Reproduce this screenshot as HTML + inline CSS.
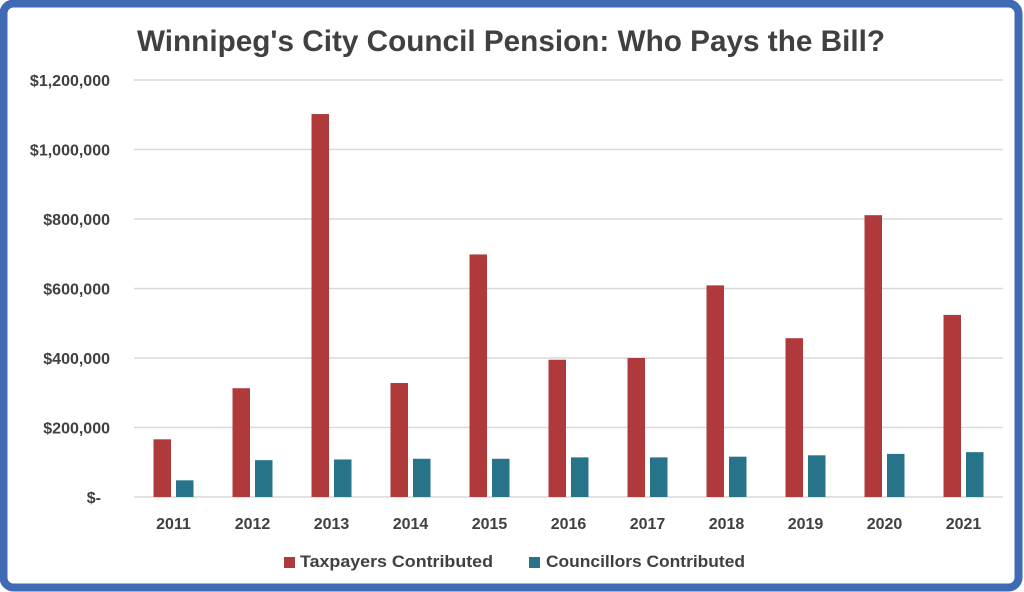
<!DOCTYPE html>
<html><head><meta charset="utf-8"><style>
html,body{margin:0;padding:0;background:#fff;}
svg{display:block;font-family:"Liberation Sans",sans-serif;}
</style></head><body>
<svg id="chart" width="1024" height="592" viewBox="0 0 1024 592" xmlns="http://www.w3.org/2000/svg">
<rect x="3.5" y="3.5" width="1015" height="584" rx="10" fill="#fff" stroke="#3e6bb3" stroke-width="8"/>
<text x="511" y="51" text-anchor="middle" font-size="30" font-weight="bold" fill="#404040" textLength="748" lengthAdjust="spacingAndGlyphs">Winnipeg's City Council Pension: Who Pays the Bill?</text>
<g id="grid"></g><g id="bars"></g><g id="labels"></g>
<g>
<rect x="284" y="557" width="11" height="11" fill="#b0393c"/>
<text x="300" y="567" font-size="17" font-weight="bold" fill="#404040" textLength="193" lengthAdjust="spacingAndGlyphs">Taxpayers Contributed</text>
<rect x="529" y="557" width="11" height="11" fill="#26738a"/>
<text x="546" y="567" font-size="17" font-weight="bold" fill="#404040" textLength="199" lengthAdjust="spacingAndGlyphs">Councillors Contributed</text>
</g>
</svg>
<script>
const categories = ["2011","2012","2013","2014","2015","2016","2017","2018","2019","2020","2021"];
const taxpayers = [166000,313000,1102000,328000,698000,395000,400000,609000,457000,811000,524000];
const councillors = [48000,106000,108000,110000,110000,114000,114000,116000,120000,124000,129000];
const yTicks = [0,200000,400000,600000,800000,1000000,1200000];
const yTickLabels = ["$-","$200,000","$400,000","$600,000","$800,000","$1,000,000","$1,200,000"];

const NS="http://www.w3.org/2000/svg";
const left=134,right=1003,y0=497,yTop=80,yMax=1200000;
const y=v=>y0-(v/yMax)*(y0-yTop);
const band=(right-left)/categories.length;
const bw=17.5,gap=5;
function mk(tag,attrs,parent){const e=document.createElementNS(NS,tag);for(const k in attrs)e.setAttribute(k,attrs[k]);parent.appendChild(e);return e;}
const grid=document.getElementById('grid'),bars=document.getElementById('bars'),labels=document.getElementById('labels');
yTicks.forEach((t,i)=>{
  const l=mk('line',{x1:left,x2:right,y1:y(t),y2:y(t),stroke:'#d9d9d9','stroke-width':1.5},grid);
  
  
  const tx=mk('text',{x:i===0?101:110,y:y(t)+6,'text-anchor':'end','font-size':16,'font-weight':'bold',fill:'#404040'},labels);
  tx.textContent=yTickLabels[i];
  
  
});
categories.forEach((c,i)=>{
  const cx=left+band*(i+0.5);
  const r=mk('rect',{x:cx-gap/2-bw,y:y(taxpayers[i]),width:bw,height:y0-y(taxpayers[i]),fill:'#b0393c'},bars);
  
  
  const b=mk('rect',{x:cx+gap/2,y:y(councillors[i]),width:bw,height:y0-y(councillors[i]),fill:'#26738a'},bars);
  
  
  const tx=mk('text',{x:cx,y:529,'text-anchor':'middle','font-size':16,'font-weight':'bold',fill:'#404040'},labels);
  tx.textContent=c;
  
  
});
</script>
</body></html>
